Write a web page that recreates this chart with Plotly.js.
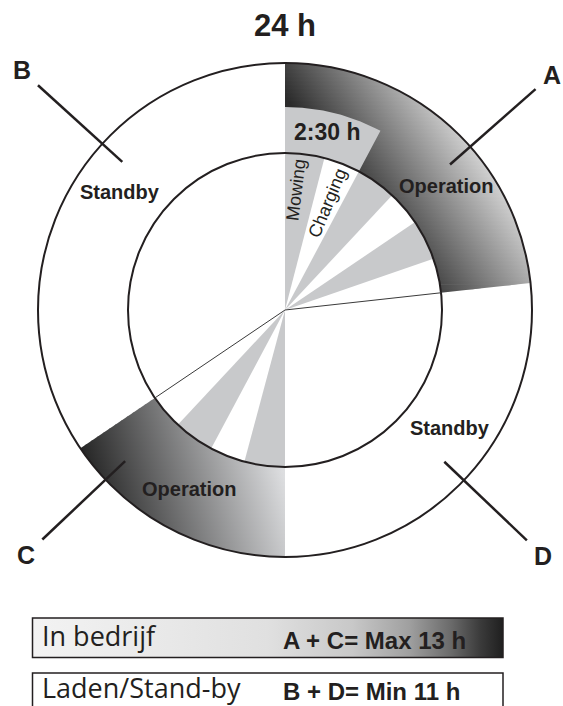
<!DOCTYPE html>
<html>
<head>
<meta charset="utf-8">
<script src="https://cdn.plot.ly/plotly-3.0.1.min.js"></script>
<style>
  html, body { margin: 0; padding: 0; background: #fff; }
  #chart { width: 563px; height: 706px; }
</style>
</head>
<body>
<div id="chart"></div>
<script>
// 24 h clock, hours counted clockwise from 12 o'clock
let segmentNames = ["A", "D", "C", "B"];
let segmentStart = [0, 5.58, 12, 15.73];
let segmentEnd = [5.58, 12, 15.73, 24];
let segmentMode = ["Operation", "Standby", "Operation", "Standby"];

// mowing slots inside the operation windows, the gaps are charging
let mowStart = [0, 1.87, 3.73, 12, 13.87];
let mowEnd = [0.97, 2.87, 4.73, 13.0, 14.87];

// one mowing + charging cycle
let cycleLabel = "2:30 h";
let cycleStart = 0;
let cycleEnd = 1.87;

let summaryLabels = ["In bedrijf", "Laden/Stand-by"];
let summaryValues = ["A + C= Max 13 h", "B + D= Min 11 h"];

// ---- geometry / style (1 axis unit = 1 px, centre of the clock at 0,0)
const R_OUT = 247, R_MID = 203, R_IN = 157;
const INK = "#231f20";
const GREY = "#c8c9cb";
const SANS = "Liberation Sans, Arial, sans-serif";
const labelAngle = [52.5, 125.5, 208.3, 305.5];   // degrees, Standby/Operation labels
const letterAngle = [48.6, 133.6, 226.6, 312.3];  // degrees, A D C B pointers
// linear gradients of the operation bands: direction, dark -> light
const opGradient = [
  {dir: [0.83, 0.56], from: 120, to: 252, colors: ["#2b2b2b", "#d6d6d6"]},
  {dir: [0.96, 0.28], from: -237, to: -47, colors: ["#232323", "#dddee0"]}
];

function toXY(hour, r) {
  let a = hour / 24 * 2 * Math.PI;
  return [r * Math.sin(a), r * Math.cos(a)];
}

function arc(h0, h1, r) {
  let n = Math.max(2, Math.ceil(Math.abs(h1 - h0) * 30));
  let pts = [];
  for (let i = 0; i <= n; i++) {
    pts.push(toXY(h0 + (h1 - h0) * i / n, r));
  }
  return pts;
}

function sector(h0, h1, r0, r1) {
  if (r0 === 0) return [[0, 0]].concat(arc(h0, h1, r1));
  return arc(h0, h1, r1).concat(arc(h1, h0, r0));
}

function areaTrace(poly, extra) {
  return Object.assign({
    type: "scatter",
    mode: "lines",
    x: poly.map(p => p[0]),
    y: poly.map(p => p[1]),
    fill: "toself",
    line: {width: 0},
    hoverinfo: "skip",
    showlegend: false
  }, extra);
}

// Sutherland-Hodgman against one horizontal line
function clipHalf(poly, yc, keepAbove) {
  let res = [];
  let inside = p => keepAbove ? p[1] >= yc : p[1] <= yc;
  let cut = (a, b) => [a[0] + (yc - a[1]) / (b[1] - a[1]) * (b[0] - a[0]), yc];
  for (let i = 0; i < poly.length; i++) {
    let cur = poly[i];
    let prev = poly[(i + poly.length - 1) % poly.length];
    if (inside(cur)) {
      if (!inside(prev)) res.push(cut(prev, cur));
      res.push(cur);
    } else if (inside(prev)) {
      res.push(cut(prev, cur));
    }
  }
  return res;
}

// plotly only has horizontal/vertical fill gradients, so a tilted one is
// built from thin horizontal strips, each with its own start/stop
function gradientTraces(poly, g, step) {
  let ys = poly.map(p => p[1]);
  let top = Math.max(...ys), bottom = Math.min(...ys);
  let traces = [];
  for (let y = bottom; y < top; y += step) {
    let piece = clipHalf(clipHalf(poly, y - 0.5, true), y + step + 0.5, false);
    if (piece.length < 3) continue;
    let yc = y + step / 2;
    traces.push(areaTrace(piece, {
      fillgradient: {
        type: "horizontal",
        colorscale: [[0, g.colors[0]], [1, g.colors[1]]],
        start: (g.from - g.dir[1] * yc) / g.dir[0],
        stop: (g.to - g.dir[1] * yc) / g.dir[0]
      }
    }));
  }
  return traces;
}

let traces = [];

// mowing wedges in the inner disc
for (let i = 0; i < mowStart.length; i++) {
  traces.push(areaTrace(sector(mowStart[i], mowEnd[i], 0, R_IN), {fillcolor: GREY}));
}

// operation bands with gradient
let op = 0;
for (let i = 0; i < segmentNames.length; i++) {
  if (segmentMode[i] !== "Operation") continue;
  let poly = sector(segmentStart[i], segmentEnd[i], R_IN, R_OUT);
  traces = traces.concat(gradientTraces(poly, opGradient[op], 4));
  op++;
}

// cycle wedge on top of band A
traces.push(areaTrace(sector(cycleStart, cycleEnd, R_IN, R_MID), {fillcolor: GREY}));

// summary box "In bedrijf" with its gradient
let boxX0 = -252.5, boxX1 = 218;
let box1 = [-308, -347.5], box2 = [-363, -420];
traces.push(areaTrace([[boxX0, box1[0]], [boxX1, box1[0]], [boxX1, box1[1]], [boxX0, box1[1]]], {
  fillgradient: {
    type: "horizontal",
    colorscale: [[0, "#f3f3f3"], [0.5, "#e0e0e0"], [0.68, "#c8c8c8"],
                 [0.8, "#a0a0a0"], [0.89, "#6a6a6a"], [0.95, "#3c3c3c"], [1, "#1f1f1f"]],
    start: boxX0,
    stop: boxX1
  }
}));

// ---- shapes
let shapes = [];
[R_OUT, R_IN].forEach(r => {
  shapes.push({type: "circle", xref: "x", yref: "y", x0: -r, y0: -r, x1: r, y1: r,
               line: {color: INK, width: 2}});
});
for (let i = 0; i < segmentNames.length; i++) {
  if (segmentMode[i] !== "Operation") continue;
  let p = toXY(segmentEnd[i], R_IN);
  shapes.push({type: "line", xref: "x", yref: "y", x0: 0, y0: 0, x1: p[0], y1: p[1],
               line: {color: "#3a3a3a", width: 1}});
}
letterAngle.forEach(a => {
  let p0 = toXY(a / 15, 220), p1 = toXY(a / 15, 334);
  shapes.push({type: "line", xref: "x", yref: "y", x0: p0[0], y0: p0[1], x1: p1[0], y1: p1[1],
               line: {color: INK, width: 2.5}});
});
[box1, box2].forEach(b => {
  shapes.push({type: "rect", xref: "x", yref: "y", x0: boxX0, x1: boxX1, y0: b[0], y1: b[1],
               line: {color: INK, width: 1.5}});
});

// ---- annotations
let annotations = [];
function label(x, y, text, size, bold, extra) {
  annotations.push(Object.assign({
    x: x, y: y, xref: "x", yref: "y", text: text, showarrow: false,
    xanchor: "center", yanchor: "middle",
    font: {family: SANS, size: size, color: INK, weight: bold ? "bold" : "normal"}
  }, extra));
}

label(0, 285, "24 h", 31, true);
for (let i = 0; i < segmentNames.length; i++) {
  let p = toXY(letterAngle[i] / 15, 356);
  label(p[0], p[1], segmentNames[i], 25, true);
  let q = toXY(labelAngle[i] / 15, 203);
  label(q[0], q[1], segmentMode[i], 20, true);
}
label(42, 178.5, cycleLabel, 23, true);
label(11, 120, "Mowing", 18, false, {textangle: -83});
label(42.5, 107, "Charging", 18, false, {textangle: -67.5});

let boxText = [[-325, -330], [-377, -381]];
for (let i = 0; i < summaryLabels.length; i++) {
  label(-245, boxText[i][0], summaryLabels[i], 27, false,
        {xanchor: "left", font: {family: "Open Sans", size: 27, color: INK}});
  label(-4, boxText[i][1], summaryValues[i], 24, true, {xanchor: "left"});
}

let layout = {
  width: 563,
  height: 706,
  margin: {l: 0, r: 0, t: 0, b: 0},
  paper_bgcolor: "#ffffff",
  plot_bgcolor: "#ffffff",
  showlegend: false,
  xaxis: {range: [-285, 278], visible: false, fixedrange: true},
  yaxis: {range: [-396, 310], visible: false, fixedrange: true},
  shapes: shapes,
  annotations: annotations
};

Plotly.newPlot("chart", traces, layout, {staticPlot: true, displayModeBar: false});
</script>
</body>
</html>
